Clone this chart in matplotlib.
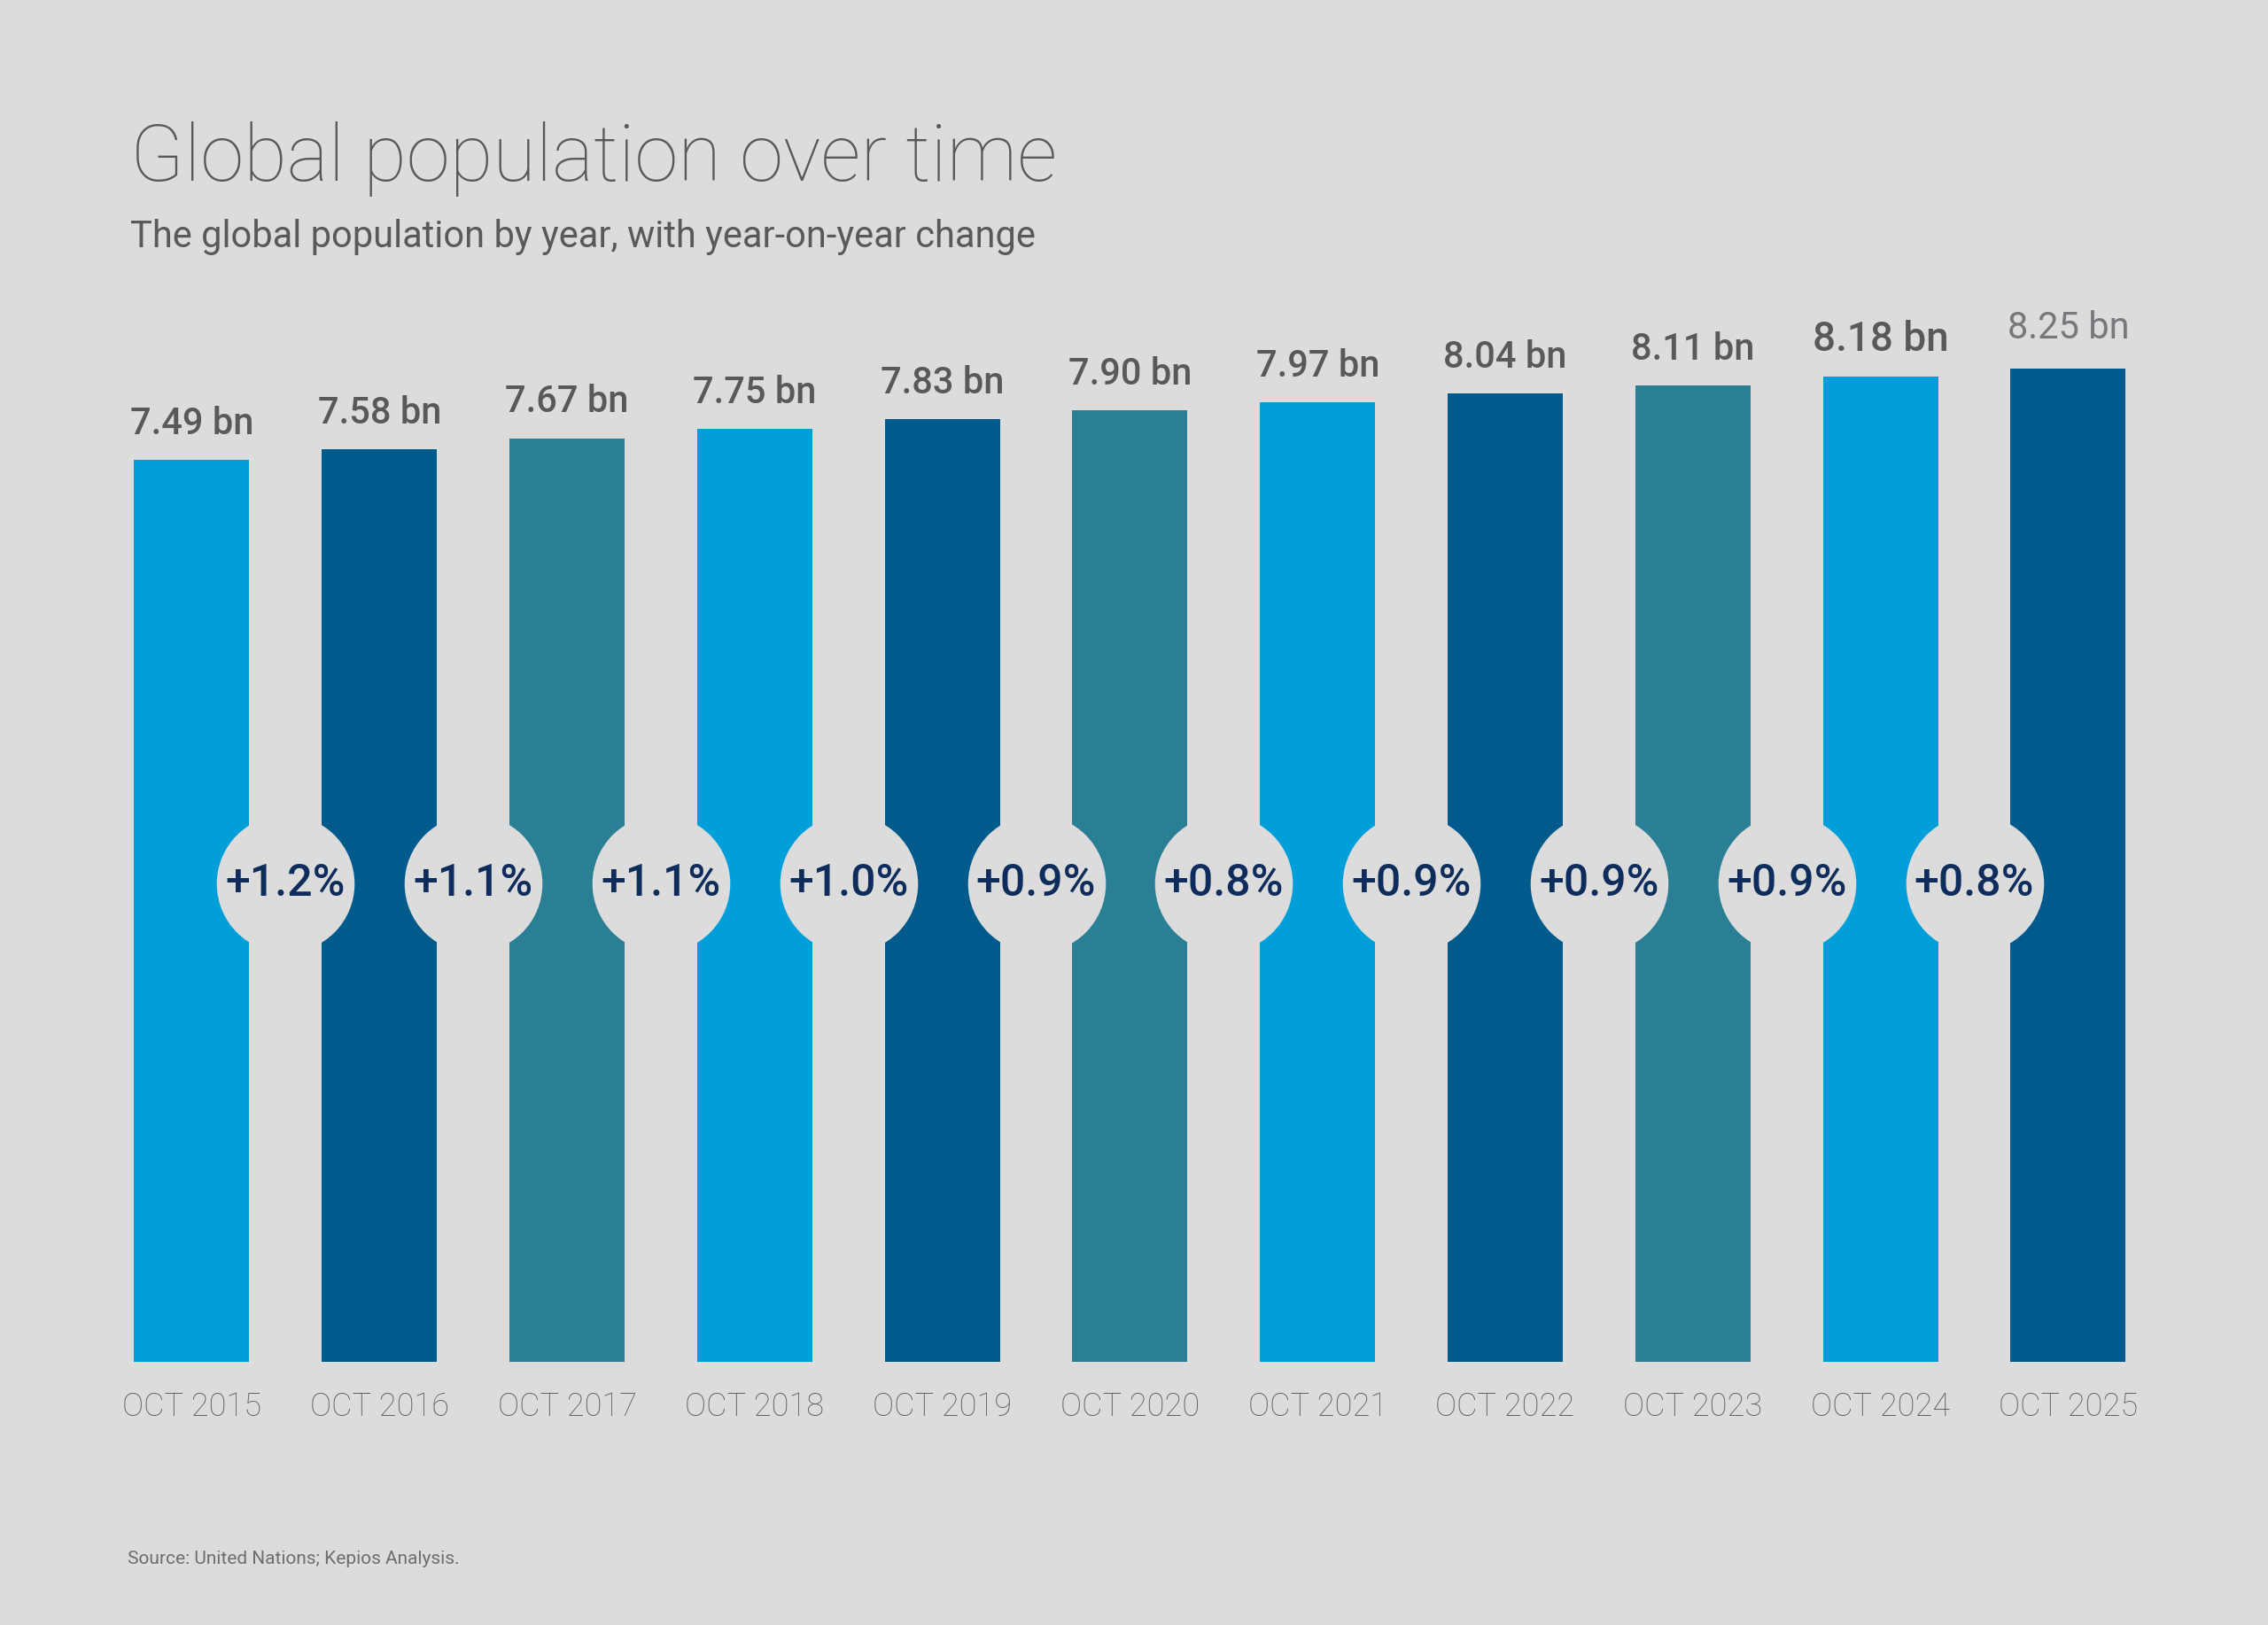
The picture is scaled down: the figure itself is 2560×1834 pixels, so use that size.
import matplotlib.pyplot as plt

# data
years = ['OCT 2015', 'OCT 2016', 'OCT 2017', 'OCT 2018', 'OCT 2019', 'OCT 2020',
         'OCT 2021', 'OCT 2022', 'OCT 2023', 'OCT 2024', 'OCT 2025']
population = [7.49, 7.58, 7.67, 7.75, 7.83, 7.90, 7.97, 8.04, 8.11, 8.18, 8.25]
yoy_change = [1.2, 1.1, 1.1, 1.0, 0.9, 0.8, 0.9, 0.9, 0.9, 0.8]

bg = '#dcdcdc'
palette = ['#009fda', '#005b8c', '#2b7f95']
colors = [palette[i % 3] for i in range(len(years))]

plt.rcParams['font.family'] = ['Roboto', 'DejaVu Sans']

fig = plt.figure(figsize=(25.6, 18.34), dpi=100, facecolor=bg)
ax = fig.add_axes([0.04316, 0.1620, 0.9101, 0.6669])
ax.set_facecolor(bg)

x = list(range(len(years)))
ax.bar(x, population, width=0.614, color=colors, zorder=1)
ax.set_xlim(-0.5, len(years) - 0.5)
ax.set_ylim(0, 9)
ax.axis('off')

for i, v in enumerate(population):
    size, col, wt, off = 30, '#58595b', 'medium', 21
    if i == len(population) - 2:
        size = 33
    if i == len(population) - 1:
        col, wt, off = '#77787b', 'regular', 24
    ax.annotate(f'{v:.2f} bn', (i, v), xytext=(0, off), textcoords='offset points',
                ha='center', va='baseline', fontsize=size, fontweight=wt,
                color=col)

# change bubbles between bars
mid = [i + 0.5 for i in range(len(yoy_change))]
ax.scatter(mid, [3.97] * len(mid), s=112 ** 2, color=bg, zorder=2, linewidths=0)
for m, c in zip(mid, yoy_change):
    ax.text(m, 3.97, f'+{c:.1f}%', ha='center', va='center', fontsize=36,
            fontweight='medium', color='#0f2d5c', zorder=3)

for i, lab in enumerate(years):
    ax.annotate(lab, (i, 0), xytext=(0, -37), textcoords='offset points',
                ha='center', va='center', fontsize=26, fontweight='light',
                color='#5f6063', annotation_clip=False)

fig.text(0.0574, 0.889, 'Global population over time', fontsize=64,
         fontweight='light', color='#58595b', va='baseline')
fig.text(0.0574, 0.848, 'The global population by year, with year-on-year change',
         fontsize=30, fontweight='regular', color='#58595b', va='baseline')
fig.text(0.0563, 0.0375, 'Source: United Nations; Kepios Analysis.', fontsize=15,
         fontweight='regular', color='#6d6e71', va='baseline')

fig.savefig('out.png', dpi=100, facecolor=bg)
